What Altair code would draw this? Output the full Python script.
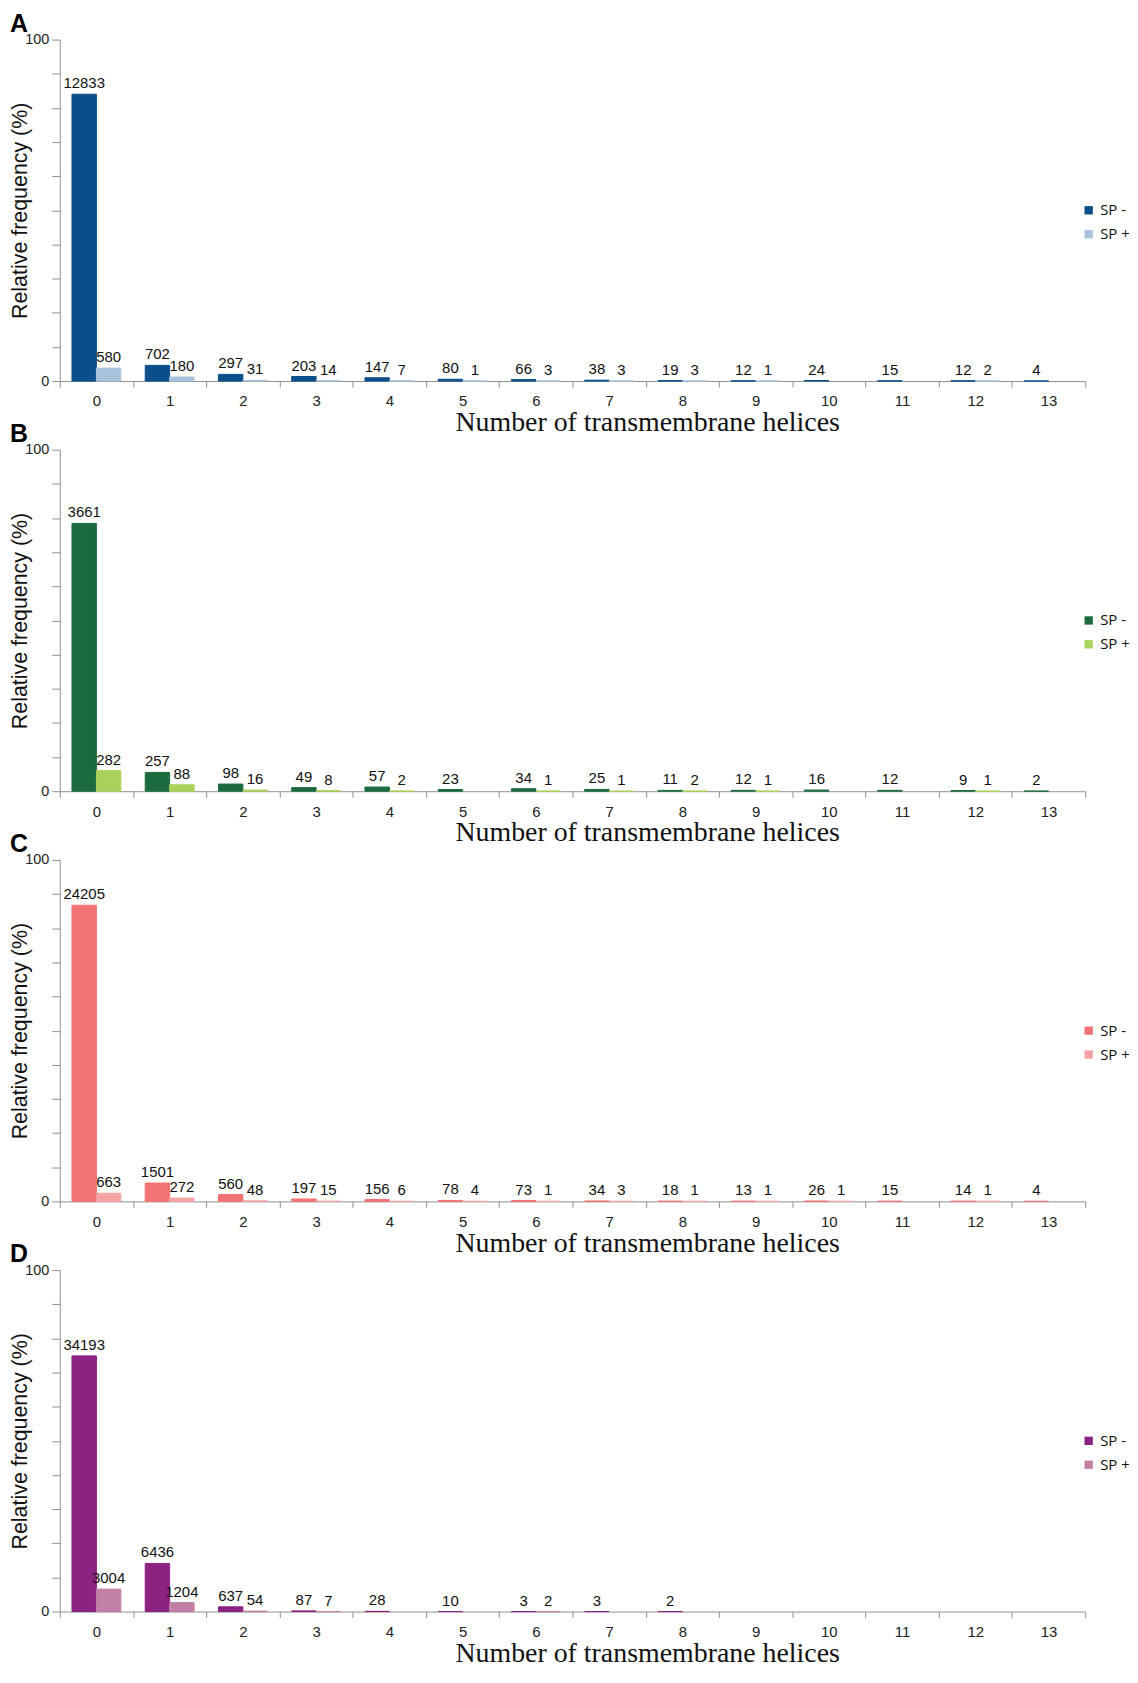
import altair as alt
import pandas as pd

# Number of transmembrane helices (x categories)
categories = [str(i) for i in range(14)]
series = ["SP -", "SP +"]

# Counts printed above the bars (None = no bar / no label)
a_minus = [12833, 702, 297, 203, 147, 80, 66, 38, 19, 12, 24, 15, 12, 4]
a_plus = [580, 180, 31, 14, 7, 1, 3, 3, 3, 1, None, None, 2, None]

b_minus = [3661, 257, 98, 49, 57, 23, 34, 25, 11, 12, 16, 12, 9, 2]
b_plus = [282, 88, 16, 8, 2, None, 1, 1, 2, 1, None, None, 1, None]

c_minus = [24205, 1501, 560, 197, 156, 78, 73, 34, 18, 13, 26, 15, 14, 4]
c_plus = [663, 272, 48, 15, 6, 4, 1, 3, 1, 1, 1, None, 1, None]

d_minus = [34193, 6436, 637, 87, 28, 10, 3, 3, 2, None, None, None, None, None]
d_plus = [3004, 1204, 54, 7, None, None, 2, None, None, None, None, None, None, None]

panel_letters = ["A", "B", "C", "D"]
panel_colors = [
    ("#0B4F8A", "#A8C1DD"),
    ("#1B6B3F", "#A9D25A"),
    ("#F37274", "#F5A3A3"),
    ("#8C2281", "#C27FA4"),
]

PLOT_W = 1030
PLOT_H = 343
AXIS_GRAY = "#8f8f8f"


def make_panel(letter, minus, plus, col_minus, col_plus):
    rows = []
    for cat, m, p in zip(categories, minus, plus):
        if m is not None:
            rows.append({"tm": cat, "series": "SP -", "count": m})
        if p is not None:
            rows.append({"tm": cat, "series": "SP +", "count": p})
    df = pd.DataFrame(rows)

    base = alt.Chart(df).transform_joinaggregate(
        total="sum(count)"
    ).transform_calculate(
        pct="datum.count / datum.total * 100"
    )

    x = alt.X(
        "tm:N",
        sort=categories,
        scale=alt.Scale(domain=categories, paddingInner=0, paddingOuter=0),
        axis=alt.Axis(
            title="Number of transmembrane helices",
            titleFont="Liberation Serif",
            titleFontSize=28,
            titleFontWeight="normal",
            titleColor="#111111",
            titleX=590,
            titleY=50,
            titleBaseline="alphabetic",
            titleAlign="center",
            labelAngle=0,
            labelFont="Liberation Sans",
            labelFontSize=15,
            labelColor="#222222",
            labelPadding=7,
            tickBand="extent",
            tickSize=6,
            tickColor=AXIS_GRAY,
            domainColor=AXIS_GRAY,
            grid=False,
        ),
    )
    xo = alt.XOffset(
        "series:N",
        sort=series,
        scale=alt.Scale(domain=series, paddingInner=0, paddingOuter=0.5),
    )
    y = alt.Y(
        "pct:Q",
        scale=alt.Scale(domain=[0, 100], nice=False),
        axis=alt.Axis(
            values=list(range(0, 101, 10)),
            labelExpr="datum.value == 0 || datum.value == 100 ? datum.label : ''",
            title="Relative frequency (%)",
            titleFont="Liberation Sans",
            titleFontSize=21.5,
            titleFontWeight="normal",
            titleColor="#111111",
            titleX=-28,
            labelFont="Liberation Sans",
            labelFontSize=14.5,
            labelColor="#222222",
            labelPadding=3,
            tickSize=8,
            tickColor=AXIS_GRAY,
            domainColor=AXIS_GRAY,
            grid=False,
        ),
    )

    color_scale = alt.Scale(domain=series, range=[col_minus, col_plus])

    bars = base.mark_bar(strokeWidth=1).encode(
        x=x,
        xOffset=xo,
        y=y,
        color=alt.Color(
            "series:N",
            scale=color_scale,
            legend=alt.Legend(
                title=None,
                orient="none",
                legendX=1026,
                legendY=164,
                symbolType="square",
                symbolSize=70,
                symbolStrokeWidth=0,
                labelFont="Open Sans",
                labelFontSize=15,
                labelColor="#111111",
                labelOffset=4,
                rowPadding=8,
                padding=0,
            ),
        ),
        stroke=alt.Stroke("series:N", scale=color_scale, legend=None),
    )

    labels = base.mark_text(
        baseline="alphabetic",
        dy=-6,
        fontSize=15,
        font="Liberation Sans",
        color="#111111",
    ).encode(
        x=x,
        xOffset=xo,
        y=y,
        text="count:Q",
    )

    return alt.layer(bars, labels).properties(
        width=PLOT_W,
        height=PLOT_H,
        title=alt.TitleParams(
            letter,
            anchor="start",
            frame="bounds",
            font="Liberation Sans",
            fontSize=25,
            fontWeight="bold",
            color="#000000",
            offset=-5,
        ),
    ).resolve_scale(color="independent", stroke="independent")


data_sets = [(a_minus, a_plus), (b_minus, b_plus), (c_minus, c_plus), (d_minus, d_plus)]
panels = [
    make_panel(letter, mn, pl, cm, cp)
    for letter, (mn, pl), (cm, cp) in zip(panel_letters, data_sets, panel_colors)
]

chart = alt.vconcat(
    *panels,
    spacing=69,
    bounds="flush",
    padding={"top": 0, "left": 2, "right": 0, "bottom": 0},
    background="white",
).resolve_scale(
    color="independent", stroke="independent", x="independent", y="independent"
).configure_view(
    stroke=None
)

chart.save("out.html", embed_options={"renderer": "svg", "actions": False})
